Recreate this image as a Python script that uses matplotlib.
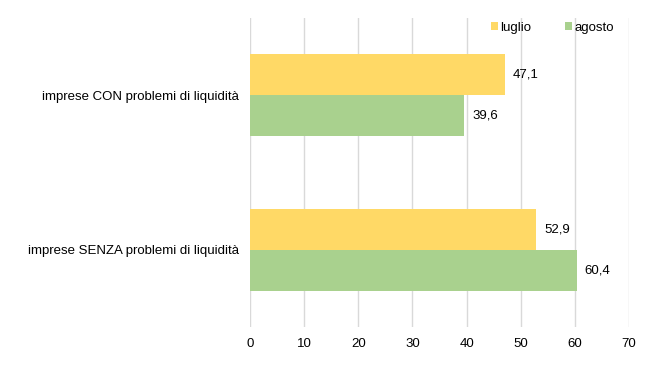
import matplotlib
matplotlib.use("Agg")
import matplotlib.pyplot as plt
from matplotlib.patches import Patch
import numpy as np

plt.rcParams['font.family'] = ['Liberation Sans', 'DejaVu Sans']

categories = ["imprese CON problemi di liquidità", "imprese SENZA problemi di liquidità"]
series_names = ["luglio", "agosto"]
luglio = [47.1, 52.9]
agosto = [39.6, 60.4]
colors = ["#FFD966", "#A9D18E"]
xticks = [0, 10, 20, 30, 40, 50, 60, 70]

FS = 9.5
fig = plt.figure(figsize=(6.47, 3.67), dpi=100)
ax = fig.add_axes([0.3864, 0.109, 0.5858, 0.842])

y = np.arange(len(categories))
h = 0.266
b1 = ax.barh(y - h/2, luglio, height=h, color=colors[0], zorder=3)
b2 = ax.barh(y + h/2, agosto, height=h, color=colors[1], zorder=3)

for bars, vals in ((b1, luglio), (b2, agosto)):
    for bar, v in zip(bars, vals):
        ax.annotate(f"{v:.1f}".replace(".", ","),
                    (bar.get_width(), bar.get_y() + bar.get_height()/2),
                    xytext=(5.5, 0), textcoords="offset points",
                    ha="left", va="center", fontsize=FS, color="#000000")

ax.set_xlim(0, 70)
ax.set_ylim(1.5, -0.5)
ax.set_xticks(xticks)
ax.set_xticklabels([str(t) for t in xticks], fontsize=FS)
ax.set_yticks(y)
ax.set_yticklabels(categories, fontsize=FS)
ax.tick_params(axis='both', length=0, pad=8)
ax.tick_params(axis='y', pad=8)
ax.grid(axis='x', color='#D9D9D9', linewidth=1, zorder=0)
for s in ax.spines.values():
    s.set_visible(False)

handles = [Patch(facecolor=c, edgecolor='none') for c in colors]
fig.legend(handles, series_names, loc='center left', bbox_to_anchor=(0.759, 0.925),
           ncol=2, frameon=False, fontsize=FS, handlelength=0.55, handleheight=0.55,
           handletextpad=0.15, columnspacing=2.55, borderaxespad=0, borderpad=0)

fig.savefig("out.png", dpi=100)
